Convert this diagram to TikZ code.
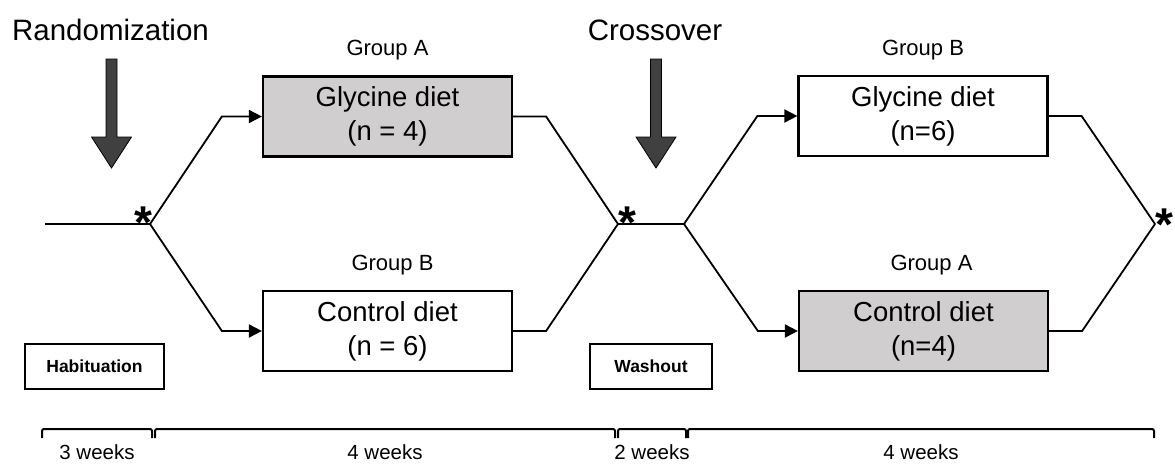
\documentclass[tikz,border=0pt]{standalone}
\usepackage{fontspec}
\setmainfont{Liberation Sans}
\usetikzlibrary{positioning, arrows.meta, calc}
\definecolor{boxgray}{HTML}{D0CECE}
\definecolor{arrowgray}{HTML}{404040}

\tikzset{
  diet/.style={draw, line width=2.2pt, minimum width=249pt, minimum height=80pt,
    align=center, inner sep=0pt, font=\fontsize{27.5}{34}\selectfont},
  grouplbl/.style={font=\fontsize{22}{24}\selectfont, inner sep=0pt},
  phase/.style={draw, line width=2pt, minimum height=45pt, inner sep=0pt,
    font=\bfseries\fontsize{17.5}{20}\selectfont},
  link/.style={line width=1.8pt},
  feed/.style={link, -{Triangle[length=13pt,width=13pt]}},
  sig/.style={font=\bfseries\fontsize{46}{46}\selectfont, inner sep=0pt, anchor=base},
  bracket/.style={line width=2pt, rounded corners=2pt},
  headline/.style={anchor=base, font=\fontsize{29.5}{32}\selectfont},
}

\begin{document}
\begin{tikzpicture}[x=1pt, y=-1pt]
  \useasboundingbox (0,0) rectangle (1175,464);
  % Ueberschriften
  \node[headline] (rand) at (110.5,40) {Randomization};
  \node[headline] (cross) at (655,40) {Crossover};
  % Blockpfeile
  \foreach \x in {111.5,656}{
    \draw[black, line width=0.8pt, fill=arrowgray]
      (\x-5.5,59) -- (\x+5.5,59) -- (\x+5.5,137) -- (\x+20,137) -- (\x,168)
      -- (\x-20,137) -- (\x-5.5,137) -- cycle;
  }
  % Diaet-Kaesten
  \node[diet, fill=boxgray] (glyA) at (387.5,116.5) {Glycine diet\\(n = 4)};
  \node[diet] (conB) at (387.5,331) {Control diet\\(n = 6)};
  \node[diet] (glyB) at (923,116) {Glycine diet\\(n=6)};
  \node[diet, fill=boxgray] (conA) at (923.5,331) {Control diet\\(n=4)};
  \node[grouplbl, above=15pt of glyA] (lblA1) {Group A};
  \node[grouplbl, above=15pt of conB, xshift=5pt] (lblB1) {Group B};
  \node[grouplbl, above=15pt of glyB] (lblB2) {Group B};
  \node[grouplbl, above=15pt of conA, xshift=8pt] (lblA2) {Group A};
  % Phasen
  \node[phase, minimum width=139pt] (hab) at (94.5,366.5) {Habituation};
  \node[phase, minimum width=122pt] (wash) at (651,366.5) {Washout};
  % Verbindungen
  \coordinate (start) at (45,224);
  \coordinate (rnd) at (150,224);
  \coordinate (xin) at (618,224);
  \coordinate (xout) at (684,224);
  \coordinate (fin) at (1155,224);
  \draw[link] (start) -- (rnd);
  \draw[feed] (rnd) -- ([xshift=-40pt]glyA.west) -- (glyA.west);
  \draw[feed] (rnd) -- ([xshift=-40pt]conB.west) -- (conB.west);
  \draw[link] (glyA.east) -- ([xshift=33pt]glyA.east) -- (xin);
  \draw[link] (conB.east) -- ([xshift=33pt]conB.east) -- (xin);
  \draw[link] (xin) -- (xout);
  \draw[feed] (xout) -- ([xshift=-40pt]glyB.west) -- (glyB.west);
  \draw[feed] (xout) -- ([xshift=-40pt]conA.west) -- (conA.west);
  \draw[link] (glyB.east) -- ([xshift=33pt]glyB.east) -- (fin);
  \draw[link] (conA.east) -- ([xshift=33pt]conA.east) -- (fin);
  % Sternchen
  \node[sig] (s1) at ([shift={(-7,14)}]rnd) {*};
  \node[sig] (s2) at ([shift={(9,14)}]xin) {*};
  \node[sig] (s3) at ([shift={(9,16)}]fin) {*};
  % Zeitachse
  \foreach \a/\b/\t [count=\i] in {42/152/3 weeks, 155/615/4 weeks, 618/686/2 weeks, 688/1154/4 weeks}{
    \draw[bracket] (\a,438) -- (\a,429) -- (\b,429) -- (\b,438);
    \node[anchor=base, font=\fontsize{20.5}{22}\selectfont] (wk\i) at ({(\a+\b)/2},459) {\t};
  }
\end{tikzpicture}
\end{document}
